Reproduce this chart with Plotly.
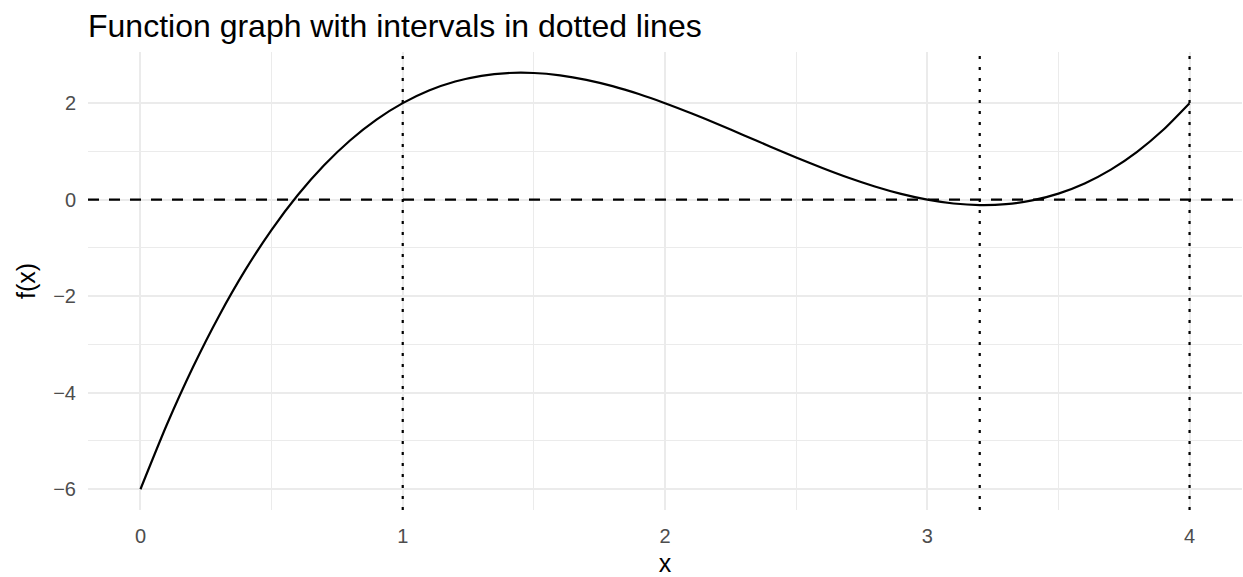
import plotly.graph_objects as go

# f(x) sampled on [0, 4]
x_vals = [0.0, 0.1, 0.2, 0.3, 0.4, 0.5, 0.6, 0.7, 0.8, 0.9,
          1.0, 1.1, 1.2, 1.3, 1.4, 1.5, 1.6, 1.7, 1.8, 1.9,
          2.0, 2.1, 2.2, 2.3, 2.4, 2.5, 2.6, 2.7, 2.8, 2.9,
          3.0, 3.1, 3.2, 3.3, 3.4, 3.5, 3.6, 3.7, 3.8, 3.9, 4.0]
y_vals = [-6.0, -4.669, -3.472, -2.403, -1.456, -0.625, 0.096, 0.713, 1.232, 1.659,
          2.0, 2.261, 2.448, 2.567, 2.624, 2.625, 2.576, 2.483, 2.352, 2.189,
          2.0, 1.791, 1.568, 1.337, 1.104, 0.875, 0.656, 0.453, 0.272, 0.119,
          0.0, -0.079, -0.112, -0.093, -0.016, 0.125, 0.336, 0.623, 0.992, 1.449, 2.0]

# interval boundaries drawn as dotted verticals
interval_x = [1, 3.2, 4]
baseline_y = 0

x_ticks = [0, 1, 2, 3, 4]
y_ticks = [-6, -4, -2, 0, 2]
y_tick_text = ["\u22126", "\u22124", "\u22122", "0", "2"]

FONT = "Liberation Sans, Arial, sans-serif"

fig = go.Figure()

fig.add_trace(go.Scatter(
    x=x_vals, y=y_vals, mode="lines",
    line=dict(color="black", width=2.2, shape="spline", smoothing=0.6),
    showlegend=False, hoverinfo="skip",
))

fig.add_hline(y=baseline_y, line=dict(color="black", width=2.2, dash="11px,10px"))
for xv in interval_x:
    fig.add_vline(x=xv, line=dict(color="black", width=2.2, dash="3px,8px"))

grid_major = "#EBEBEB"
tick_font = dict(family=FONT, size=20, color="#4D4D4D")
axis_title_font = dict(family=FONT, size=25, color="black")

fig.update_xaxes(
    range=[-0.2, 4.2], tickvals=x_ticks, ticktext=[str(t) for t in x_ticks],
    showgrid=True, gridcolor=grid_major, gridwidth=1.6,
    minor=dict(tickvals=[0.5, 1.5, 2.5, 3.5], showgrid=True, gridcolor=grid_major, gridwidth=0.8),
    zeroline=False, showline=False, ticks="", tickfont=tick_font,
    ticklabelstandoff=12,
    title=dict(text="x", font=axis_title_font, standoff=8),
)
fig.update_yaxes(
    range=[-6.43, 3.06], tickvals=y_ticks, ticktext=y_tick_text,
    showgrid=True, gridcolor=grid_major, gridwidth=1.6,
    minor=dict(tickvals=[-5, -3, -1, 1], showgrid=True, gridcolor=grid_major, gridwidth=0.8),
    zeroline=False, showline=False, ticks="", tickfont=tick_font,
    ticklabelstandoff=11,
    title=dict(text="f(x)", font=axis_title_font, standoff=10),
)

fig.update_layout(
    width=1243, height=577,
    margin=dict(l=88, r=1, t=52, b=67),
    plot_bgcolor="white", paper_bgcolor="white",
    title=dict(
        text="Function graph with intervals in dotted lines",
        font=dict(family=FONT, size=32, color="black"),
        x=88 / 1243, xanchor="left", y=1 - 26 / 577, yanchor="middle",
    ),
)

fig.write_html("out.html")
